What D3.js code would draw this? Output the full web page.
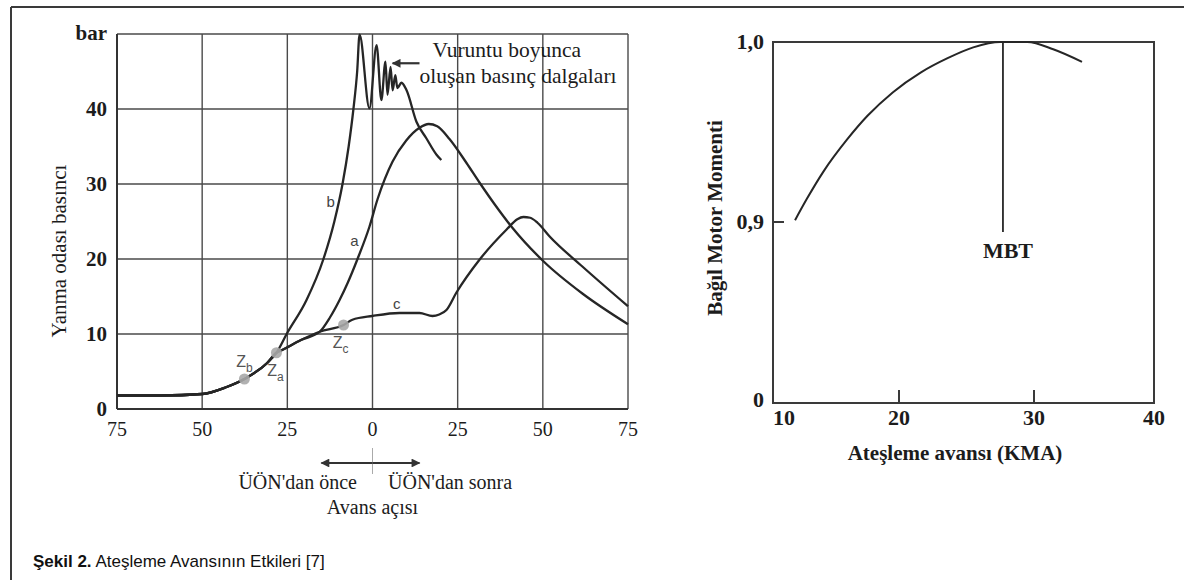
<!DOCTYPE html>
<html>
<head>
<meta charset="utf-8">
<script src="https://cdn.jsdelivr.net/npm/d3@7"></script>
<style>
  html, body { margin: 0; padding: 0; background: #fff; }
  svg { display: block; }
  .serif { font-family: "Liberation Serif", "Times New Roman", serif; fill: #1c1c1c; }
  .sans { font-family: "Liberation Sans", Arial, sans-serif; }
</style>
</head>
<body>
<div id="chart"></div>
<script>
// ---- data: left chart (crank angle vs. chamber pressure, bar) ----
const pressTicksX = [-75, -50, -25, 0, 25, 50, 75];
const pressTicksY = [0, 10, 20, 30, 40];

// common compression part, up to the Z_a ignition point
const baseX = [-75, -62, -50, -43, -37.6, -31, -28.2];
const baseY = [1.8, 1.8, 2.0, 2.9, 4.0, 6.1, 7.5];

// curve b: early ignition, knocking
const bX = [-25.2, -19.4, -14.4, -11.2, -8.8, -7.0, -5.6, -4.5, -3.8, -0.9, 1.2, 2.6, 3.8, 4.4, 5.3, 5.9, 6.7, 7.3, 8.5, 10, 12.9, 15.8, 18.8, 20.2];
const bY = [10, 14.5, 20, 25, 30, 35, 40, 45, 49.9, 40.1, 48.5, 41.2, 46.3, 41.9, 45.6, 42.5, 44.5, 42.8, 43.5, 42.5, 38.3, 36.1, 33.9, 33.2];

// curve a: normal ignition
const aX = [-26.4, -21, -15.5, -12.5, -9.7, -7.3, -4.4, -0.9, 1.5, 5.9, 9.9, 13.8, 16.5, 19, 22.6, 27.6, 31.4, 36, 41, 50.4, 61.6, 75];
const aY = [7.9, 9.2, 10.3, 12.2, 14.5, 16.8, 20, 24.3, 28, 33, 35.8, 37.5, 38, 37.7, 36.0, 32.8, 30.2, 27.2, 24.2, 19.6, 15.4, 11.3];

// curve c: late ignition
const cX = [-26.4, -21, -15.5, -8.5, -5.9, 0, 7.9, 13.8, 17.6, 19.6, 21.7, 24.6, 31.4, 39.3, 42.5, 44.3, 46.3, 48.5, 52, 61.6, 75];
const cY = [7.9, 9.2, 10.3, 11.2, 11.9, 12.4, 12.8, 12.8, 12.4, 12.6, 13.2, 15.5, 19.9, 23.9, 25.3, 25.6, 25.5, 24.8, 23.0, 19.0, 13.7];

// ignition points
const zNames = ['b', 'a', 'c'];
const zX = [-37.6, -28.2, -8.5];
const zY = [4.0, 7.5, 11.2];

// ---- data: right chart (spark advance vs. relative torque) ----
const advTicksX = [10, 20, 30, 40];
const advTickLabelsY = ['0', '0,9', '1,0'];
const advTicksY = [0, 0.9, 1.0];
const torqueX = [11.75, 12.7, 14.0, 15.9, 17.5, 19.5, 21.6, 23.6, 25.5, 27.5, 29.5, 31.6, 34.0];
const torqueY = [0.901, 0.913, 0.928, 0.946, 0.959, 0.972, 0.983, 0.991, 0.997, 1.0, 1.0, 0.996, 0.989];
const mbtX = 27.7;

const W = 1184, H = 580;
const svg = d3.select('#chart').append('svg')
  .attr('width', W)
  .attr('height', H);

// outer frame (only left and top edges are visible)
svg.append('line').attr('x1', 11).attr('y1', 7).attr('x2', 11).attr('y2', H)
  .attr('stroke', '#3a3a3a').attr('stroke-width', 2);
svg.append('line').attr('x1', 11).attr('y1', 7).attr('x2', W).attr('y2', 7)
  .attr('stroke', '#3a3a3a').attr('stroke-width', 2);

// ================= left chart =================
const x1 = d3.scaleLinear().domain([-75, 75]).range([117, 628]);
const y1 = d3.scaleLinear().domain([0, 50]).range([409, 34]);

const left = svg.append('g');

// grid
left.selectAll('.vgrid').data(pressTicksX).enter().append('line')
  .attr('x1', d => x1(d)).attr('x2', d => x1(d))
  .attr('y1', y1(0)).attr('y2', y1(50))
  .attr('stroke', '#4a4a4a').attr('stroke-width', 1.4);
left.selectAll('.hgrid').data(pressTicksY.concat([50])).enter().append('line')
  .attr('x1', x1(-75)).attr('x2', x1(75))
  .attr('y1', d => y1(d)).attr('y2', d => y1(d))
  .attr('stroke', '#4a4a4a').attr('stroke-width', 1.4);
// slightly heavier left & bottom axis lines
left.append('line').attr('x1', x1(-75)).attr('x2', x1(-75)).attr('y1', y1(0)).attr('y2', y1(50))
  .attr('stroke', '#333').attr('stroke-width', 2);
left.append('line').attr('x1', x1(-75)).attr('x2', x1(75)).attr('y1', y1(0)).attr('y2', y1(0))
  .attr('stroke', '#333').attr('stroke-width', 2);

// tick labels
left.selectAll('.ylab').data(pressTicksY).enter().append('text')
  .attr('class', 'serif')
  .attr('x', 107).attr('y', d => y1(d))
  .attr('dy', '0.33em')
  .attr('text-anchor', 'end')
  .attr('font-size', 21).attr('font-weight', 'bold')
  .text(d => d);
left.append('text').attr('class', 'serif')
  .attr('x', 107).attr('y', y1(50)).attr('dy', '0.3em')
  .attr('text-anchor', 'end')
  .attr('font-size', 21).attr('font-weight', 'bold')
  .text('bar');

left.selectAll('.xlab').data(pressTicksX).enter().append('text')
  .attr('class', 'serif')
  .attr('x', d => x1(d)).attr('y', 436)
  .attr('text-anchor', 'middle')
  .attr('font-size', 20)
  .text(d => Math.abs(d));

// y title
left.append('text').attr('class', 'serif')
  .attr('transform', 'translate(66,251) rotate(-90)')
  .attr('text-anchor', 'middle')
  .attr('font-size', 21)
  .text('Yanma odası basıncı');

// curves
const line1 = d3.line()
  .x(d => x1(d[0])).y(d => y1(d[1]))
  .curve(d3.curveMonotoneX);

const zip = (xs, ys) => xs.map((v, i) => [v, ys[i]]);
const base = zip(baseX, baseY);
const curves = [
  base.concat(zip(cX, cY)),
  base.concat(zip(aX, aY)),
  base.concat(zip(bX, bY))
];

left.selectAll('.curve').data(curves).enter().append('path')
  .attr('d', d => line1(d))
  .attr('fill', 'none')
  .attr('stroke', '#262626')
  .attr('stroke-width', 2.3)
  .attr('stroke-linejoin', 'round');

// ignition points
left.selectAll('.zdot').data(zX).enter().append('circle')
  .attr('cx', d => x1(d)).attr('cy', (d, i) => y1(zY[i]))
  .attr('r', 5.5)
  .attr('fill', '#a9a9a9').attr('opacity', 0.9);

// label offsets (px) relative to each ignition point
const zLabOff = [[0, -12], [-1, 23], [-3, 23]];
zNames.forEach((n, i) => {
  const t = left.append('text').attr('class', 'sans')
    .attr('x', x1(zX[i]) + zLabOff[i][0]).attr('y', y1(zY[i]) + zLabOff[i][1])
    .attr('fill', '#555').attr('font-size', 16)
    .attr('text-anchor', 'middle');
  t.append('tspan').text('Z');
  t.append('tspan').attr('font-size', 12).attr('dy', 5).text(n);
});

// curve names
const nameX = [-12.3, -5.3, 7.1];
const nameY = [27.6, 22.5, 14];
const nameTxt = ['b', 'a', 'c'];
left.selectAll('.cname').data(nameTxt).enter().append('text')
  .attr('class', 'sans')
  .attr('x', (d, i) => x1(nameX[i])).attr('y', (d, i) => y1(nameY[i]))
  .attr('dy', '0.35em')
  .attr('text-anchor', 'middle')
  .attr('fill', '#444').attr('font-size', 15)
  .text(d => d);

// knock annotation
left.append('text').attr('class', 'serif')
  .attr('x', x1(17.6)).attr('y', y1(46.9))
  .attr('font-size', 21.5)
  .text('Vuruntu boyunca');
left.append('text').attr('class', 'serif')
  .attr('x', x1(13.8)).attr('y', y1(43.5))
  .attr('font-size', 21.5)
  .text('oluşan basınç dalgaları');

const defs = svg.append('defs');
defs.append('marker')
  .attr('id', 'head')
  .attr('viewBox', '0 0 10 10')
  .attr('refX', 9).attr('refY', 5)
  .attr('markerWidth', 5).attr('markerHeight', 4)
  .attr('markerUnits', 'strokeWidth')
  .attr('orient', 'auto')
  .append('path').attr('d', 'M0,0 L10,5 L0,10 Z').attr('fill', '#333');

left.append('line')
  .attr('x1', x1(13.8)).attr('y1', y1(46.1))
  .attr('x2', x1(5.9)).attr('y2', y1(46.1))
  .attr('stroke', '#333').attr('stroke-width', 2.2)
  .attr('marker-end', 'url(#head)');

// before / after TDC arrow
const arrowY = 463;
left.append('line')
  .attr('x1', x1(0)).attr('x2', x1(0))
  .attr('y1', 448).attr('y2', 474)
  .attr('stroke', '#aaa').attr('stroke-width', 1);
left.append('line')
  .attr('x1', x1(0)).attr('y1', arrowY)
  .attr('x2', x1(-15)).attr('y2', arrowY)
  .attr('stroke', '#333').attr('stroke-width', 2.2)
  .attr('marker-end', 'url(#head)');
left.append('line')
  .attr('x1', x1(0)).attr('y1', arrowY)
  .attr('x2', x1(13.8)).attr('y2', arrowY)
  .attr('stroke', '#333').attr('stroke-width', 2.2)
  .attr('marker-end', 'url(#head)');

left.append('text').attr('class', 'serif')
  .attr('x', 357).attr('y', 489)
  .attr('text-anchor', 'end').attr('font-size', 20)
  .text("ÜÖN'dan önce");
left.append('text').attr('class', 'serif')
  .attr('x', 388).attr('y', 489)
  .attr('text-anchor', 'start').attr('font-size', 20)
  .text("ÜÖN'dan sonra");
left.append('text').attr('class', 'serif')
  .attr('x', x1(0)).attr('y', 514)
  .attr('text-anchor', 'middle').attr('font-size', 20)
  .text('Avans açısı');

// ================= right chart =================
const x2 = d3.scaleLinear().domain([10, 20, 30, 40]).range([773, 899, 1034, 1154]);
const y2 = d3.scaleLinear().domain([0, 0.9, 1.0]).range([403, 222, 42]);

const right = svg.append('g');

right.append('rect')
  .attr('x', x2(10)).attr('y', y2(1.0))
  .attr('width', x2(40) - x2(10)).attr('height', y2(0) - y2(1.0))
  .attr('fill', 'none').attr('stroke', '#3a3a3a').attr('stroke-width', 2);

// inner ticks
right.selectAll('.xt').data([20, 30]).enter().append('line')
  .attr('x1', d => x2(d)).attr('x2', d => x2(d))
  .attr('y1', y2(0)).attr('y2', y2(0) - 13)
  .attr('stroke', '#3a3a3a').attr('stroke-width', 2);
right.append('line')
  .attr('x1', x2(10)).attr('x2', x2(10) + 11)
  .attr('y1', y2(0.9)).attr('y2', y2(0.9))
  .attr('stroke', '#3a3a3a').attr('stroke-width', 2);

right.selectAll('.ylab').data(advTicksY).enter().append('text')
  .attr('class', 'serif')
  .attr('x', 764).attr('y', d => y2(d))
  .attr('dy', (d, i) => i === 0 ? '0.2em' : '0.33em')
  .attr('text-anchor', 'end')
  .attr('font-size', 22).attr('font-weight', 'bold')
  .text((d, i) => advTickLabelsY[i]);

right.selectAll('.xlab').data(advTicksX).enter().append('text')
  .attr('class', 'serif')
  .attr('x', d => x2(d)).attr('y', 425)
  .attr('text-anchor', (d, i) => i === 0 ? 'start' : 'middle')
  .attr('font-size', 22).attr('font-weight', 'bold')
  .text(d => d);

right.append('text').attr('class', 'serif')
  .attr('x', 955).attr('y', 460)
  .attr('text-anchor', 'middle')
  .attr('font-size', 21).attr('font-weight', 'bold')
  .text('Ateşleme avansı (KMA)');

right.append('text').attr('class', 'serif')
  .attr('transform', 'translate(722,218) rotate(-90)')
  .attr('text-anchor', 'middle')
  .attr('font-size', 21).attr('font-weight', 'bold')
  .text('Bağıl Motor Momenti');

const line2 = d3.line()
  .x(d => x2(d[0])).y(d => y2(d[1]))
  .curve(d3.curveMonotoneX);

right.append('path')
  .attr('d', line2(zip(torqueX, torqueY)))
  .attr('fill', 'none').attr('stroke', '#262626').attr('stroke-width', 2);

right.append('line')
  .attr('x1', x2(mbtX)).attr('x2', x2(mbtX))
  .attr('y1', y2(1.0)).attr('y2', y2(0.85))
  .attr('stroke', '#262626').attr('stroke-width', 1.8);

right.append('text').attr('class', 'serif')
  .attr('x', x2(mbtX) + 5).attr('y', 258)
  .attr('text-anchor', 'middle')
  .attr('font-size', 22).attr('font-weight', 'bold')
  .text('MBT');

// ================= caption =================
const cap = svg.append('text').attr('class', 'sans')
  .attr('x', 33).attr('y', 567)
  .attr('font-size', 17).attr('fill', '#111');
cap.append('tspan').attr('font-weight', 'bold').text('Şekil 2.');
cap.append('tspan').text(' Ateşleme Avansının Etkileri [7]');
</script>
</body>
</html>
